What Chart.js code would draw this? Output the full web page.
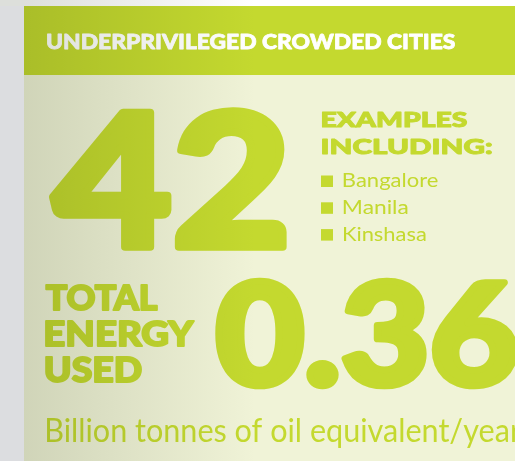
<!DOCTYPE html>
<html>
<head>
<meta charset="utf-8">
<script src="https://cdn.jsdelivr.net/npm/chart.js@4.4.1/dist/chart.umd.min.js"></script>
<style>
  html, body { margin: 0; padding: 0; background: #fff; }
  #wrap { width: 515px; height: 461px; }
</style>
</head>
<body>
<div id="wrap"><canvas id="chart"></canvas></div>
<script>
// --- DATOS ---
const title = 'UNDERPRIVILEGED CROWDED CITIES';
const cityCount = [42];
const exampleHeading = ['EXAMPLES', 'INCLUDING:'];
const exampleCities = ['Bangalore', 'Manila', 'Kinshasa'];
const energyHeading = ['TOTAL', 'ENERGY', 'USED'];
const energyValue = [0.36];
const energyUnit = 'Billion tonnes of oil equivalent/year';

const GREEN = '#c4d92f';
const PANEL = '#f0f3d7';
const BOLD = '900 100px Lato, "Noto Sans", sans-serif';
const LIGHT = '400 100px Lato, "Noto Sans", sans-serif';

// texto ajustado a una caja (izquierda, derecha, arriba, línea base), con trazo para engrosar
function boxText(ctx, text, font, left, right, top, base, sw) {
    sw = sw || 0;
    ctx.font = font;
    const m = ctx.measureText(text);
    const sx = (right - left - sw) / (m.actualBoundingBoxLeft + m.actualBoundingBoxRight);
    const sy = (base - top - sw) / m.actualBoundingBoxAscent;
    ctx.save();
    ctx.translate(left + sw / 2 + m.actualBoundingBoxLeft * sx, base - sw / 2);
    ctx.scale(sx, sy);
    ctx.fillText(text, 0, 0);
    if (sw) {
        ctx.strokeStyle = ctx.fillStyle;
        ctx.lineJoin = 'round';
        ctx.lineWidth = sw / ((sx + sy) / 2);
        ctx.strokeText(text, 0, 0);
    }
    ctx.restore();
}

// texto con tamaño fijo, sólo se ajusta el ancho
function wideText(ctx, text, font, size, left, right, base) {
    ctx.font = font.replace('100px', size + 'px');
    const m = ctx.measureText(text);
    const sx = (right - left) / (m.actualBoundingBoxLeft + m.actualBoundingBoxRight);
    ctx.save();
    ctx.translate(left + m.actualBoundingBoxLeft * sx, base);
    ctx.scale(sx, 1);
    ctx.fillText(text, 0, 0);
    ctx.restore();
}

const infographic = {
    id: 'infographic',
    beforeDraw(chart) {
        const ctx = chart.ctx;
        const W = chart.width, H = chart.height;
        ctx.save();
        ctx.fillStyle = '#fff';
        ctx.fillRect(0, 0, W, H);

        // cabecera y panel
        ctx.fillStyle = GREEN;
        ctx.fillRect(24, 6, W - 24, 69);
        ctx.fillStyle = PANEL;
        ctx.fillRect(24, 75, W - 24, H - 75);

        ctx.fillStyle = '#fff';
        boxText(ctx, title, BOLD, 47, 455, 33, 49, 0.8);

        ctx.fillStyle = GREEN;
        boxText(ctx, String(cityCount[0]), BOLD, 49, 287, 108, 251, 8);

        const exRight = [467, 492];
        exampleHeading.forEach((t, i) => {
            boxText(ctx, t, BOLD, 322, exRight[i], 112 + i * 26.5, 128 + i * 26.5, 1.2);
        });

        const cityRight = [438, 408, 426];
        exampleCities.forEach((c, i) => {
            const base = 187 + i * 26.8;
            ctx.fillRect(321, base - 11.5, 12, 11.5);
            wideText(ctx, c, LIGHT, 19.5, 343, cityRight[i], base);
        });

        const enRight = [158, 195, 142];
        energyHeading.forEach((t, i) => {
            boxText(ctx, t, BOLD, 45, enRight[i], 284 + i * 36, 311 + i * 36, 2);
        });

        boxText(ctx, energyValue[0].toFixed(2), BOLD, 215, 519, 278, 388, 7);

        wideText(ctx, energyUnit, LIGHT, 33, 47, 521, 442);

        // sombreado lateral izquierdo
        ctx.globalCompositeOperation = 'multiply';
        const g = ctx.createLinearGradient(24, 0, 255, 0);
        g.addColorStop(0, 'rgb(221,223,219)');
        g.addColorStop(1, 'rgb(255,255,255)');
        ctx.fillStyle = g;
        ctx.fillRect(0, 0, W, H);
        ctx.globalCompositeOperation = 'source-over';
        ctx.fillStyle = '#dcdde0';
        ctx.fillRect(0, 6, 24, H - 6);
        ctx.restore();
    }
};

document.fonts.ready.then(() => {
    new Chart(document.getElementById('chart'), {
        type: 'bar',
        data: { labels: exampleCities, datasets: [] },
        options: {
            responsive: true,
            maintainAspectRatio: false,
            animation: false,
            events: [],
            plugins: { legend: { display: false }, tooltip: { enabled: false } },
            scales: { x: { display: false }, y: { display: false } }
        },
        plugins: [infographic]
    });
});
</script>
</body>
</html>
